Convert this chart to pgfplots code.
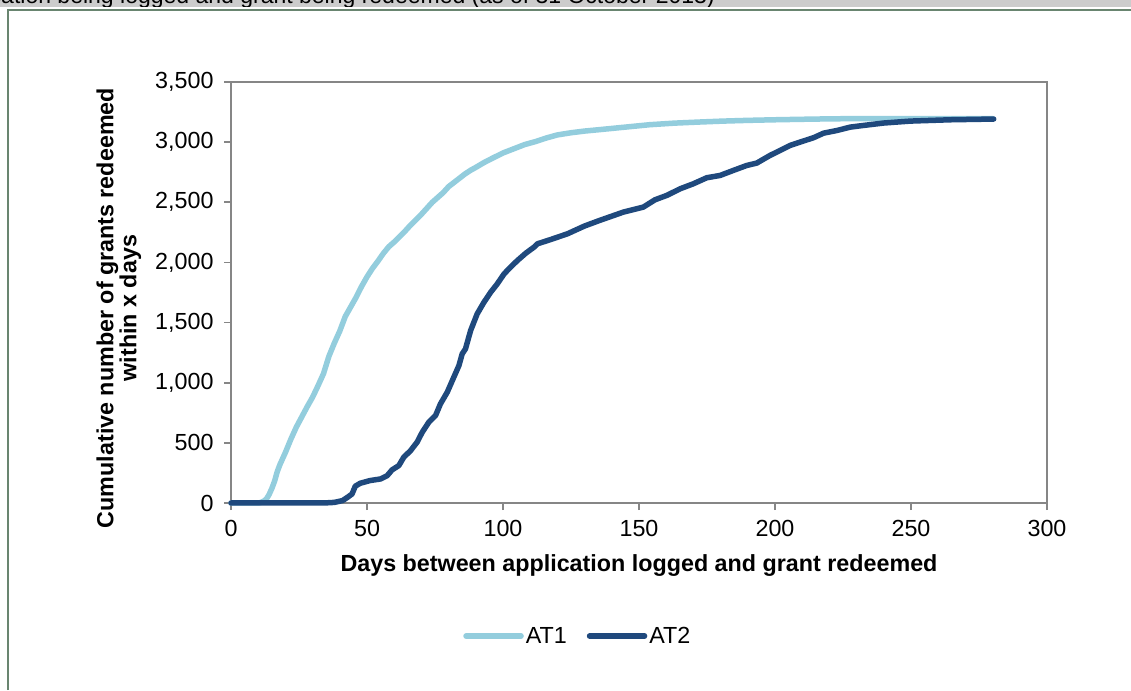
\documentclass[border=0pt]{standalone}
\usepackage{fontspec}
\setmainfont{Liberation Sans}
\usepackage{pgfplots}
\pgfplotsset{compat=1.18}
\definecolor{atone}{HTML}{93CDDD}
\definecolor{attwo}{HTML}{1F497D}
\definecolor{axgray}{HTML}{868686}
\definecolor{framegreen}{HTML}{698570}
\definecolor{stripgray}{HTML}{CCCCCC}
\begin{document}
\begin{tikzpicture}[x=1pt,y=1pt]
\useasboundingbox (0,0) rectangle (1131,690);
\fill[white] (0,0) rectangle (1131,690);
\fill[stripgray] (0,683.3) rectangle (1131,690);
\begin{scope}
\clip (0,683.3) rectangle (1131,690);
\node[anchor=base east, inner sep=0pt, font=\fontsize{23}{27}\selectfont] at (715,686.8) {Time between application being logged and grant being redeemed (as of 31 October 2013)};
\end{scope}
\draw[framegreen, line width=1.8pt] (7.8,0) -- (7.8,680.2) -- (1131,680.2);
\begin{axis}[
  at={(231pt,187pt)}, anchor=south west,
  scale only axis, width=816pt, height=421pt,
  xmin=0, xmax=300, ymin=0, ymax=3500,
  xtick={0,50,...,300}, ytick={0,500,...,3500},
  scaled ticks=false,
  /pgf/number format/.cd, 1000 sep={,}, assume math mode=true, /pgfplots/.cd,
  axis line style={axgray, line width=1.6pt},
  tick style={axgray, line width=1.6pt},
  tick align=outside, major tick length=7pt,
  xtick pos=bottom, ytick pos=left,
  ticklabel style={font=\fontsize{23.3}{27}\selectfont, text=black},
  yticklabel style={xshift=-7pt},
  xticklabel style={yshift=-7pt},
  clip=false,
  xlabel={\bfseries Days between application logged and grant redeemed},
  ylabel={\bfseries Cumulative number of grants redeemed\\\bfseries within x days},
  xlabel style={font=\fontsize{23.3}{27}\selectfont, at={(axis description cs:0.5,-0.163)}, anchor=base},
  ylabel style={font=\fontsize{23.3}{23}\selectfont, align=center, at={(axis description cs:-0.1375,0.463)}, anchor=center},
  legend columns=2,
  legend style={draw=none, fill=none, at={(axis description cs:0.425,-0.316)}, anchor=center,
    font=\fontsize{23.3}{27}\selectfont,
    /tikz/every even column/.append style={column sep=18pt},
    nodes={inner sep=2pt}},
  legend image code/.code={\draw[#1, line width=5.5pt, line cap=round] (0pt,0pt) -- (55pt,0pt);},
]
\addplot[atone, line width=5.5pt, line join=round, line cap=round] coordinates {
(0,0)(10,0)(11,5)(12,15)(13,33)(14,70)(15,120)(16,180)(17,260)(18,320)(20,420)(22,530)(24,630)(26,715)(28,800)(30,880)(32,975)(34,1075)(36,1220)(38,1330)(40,1430)(42,1550)(44,1630)(46,1710)(48,1800)(50,1880)(52,1950)(54,2010)(56,2075)(58,2130)(60,2170)(62,2215)(64,2260)(66,2310)(68,2355)(70,2400)(72,2450)(74,2500)(76,2540)(78,2580)(80,2630)(82,2665)(84,2700)(86,2735)(88,2765)(90,2790)(93,2830)(96,2865)(100,2910)(104,2945)(108,2980)(112,3005)(116,3035)(120,3060)(125,3078)(130,3092)(136,3105)(145,3125)(154,3145)(163,3158)(172,3167)(181,3175)(190,3181)(200,3186)(210,3190)(221,3194)(235,3196)(250,3196)(265,3196)(280,3196)
};
\addlegendentry{AT1}
\addplot[attwo, line width=5.5pt, line join=round, line cap=round] coordinates {
(0,0)(34,0)(38,5)(41,20)(43,50)(44.5,75)(45.7,140)(47.5,164)(51,186)(55,200)(57.4,227)(59.2,275)(61.7,311)(63.5,380)(66,435)(68.4,505)(70.3,588)(72.7,671)(75.2,727)(77,824)(79.5,921)(81.9,1045)(83.8,1143)(85,1240)(86.2,1281)(88.1,1434)(90.5,1572)(93,1669)(95.5,1753)(97.9,1822)(100.4,1905)(102.8,1961)(105.3,2016)(108.4,2077)(111.4,2127)(112.7,2155)(117.6,2191)(123.7,2238)(129.9,2302)(135.5,2349)(144.2,2418)(151.6,2460)(155.9,2521)(160.2,2557)(165.1,2612)(170,2654)(174.9,2704)(179.8,2723)(184.7,2765)(189.6,2806)(193.3,2826)(198.2,2890)(201.9,2931)(205.6,2973)(209.3,3001)(214.2,3037)(217.9,3075)(222.8,3097)(227.7,3125)(232.6,3139)(240,3159)(249.8,3175)(264.5,3186)(280.4,3192)
};
\addlegendentry{AT2}
\end{axis}
\end{tikzpicture}
\end{document}
